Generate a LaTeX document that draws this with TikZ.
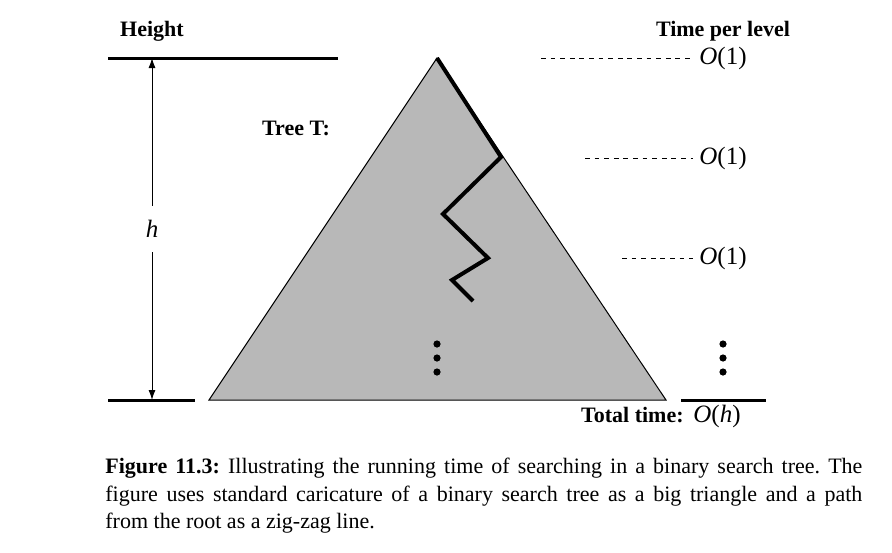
\documentclass[tikz,border=0pt]{standalone}
\usepackage{fontspec}
\setmainfont{Liberation Serif}
\usetikzlibrary{arrows.meta,positioning}
\definecolor{treegray}{RGB}{184,184,184}
\newcommand{\bigoh}[1]{\textit{O}(#1)}

\begin{document}
\begin{tikzpicture}[x=0.5pt,y=-0.5pt,
    txt/.style={font=\fontsize{11}{13.6}\selectfont,inner sep=0pt},
    head/.style={txt,font=\fontsize{11}{13.6}\selectfont\bfseries},
    cost/.style={txt,font=\fontsize{12.5}{15}\selectfont},
    level/.style={dash pattern=on 2.4pt off 2.4pt,line width=0.5pt,shorten >=3pt},
    rule/.style={line width=1.5pt},
    dot/.style={circle,fill=black,inner sep=0pt,minimum size=3.6pt}]
    \useasboundingbox (0,0) rectangle (892,552);
    % headings
    \node[head,anchor=base] (height) at (152,36) {Height};
    \node[head,anchor=base] (timeper) at (723,36) {Time per level};
    \node[head,anchor=base] (treelbl) at (296,135) {Tree T:};
    % height rules and arrow
    \coordinate (htop) at (152,58);
    \coordinate (hbot) at (152,400);
    \draw[rule] (108,58) -- (338,58);
    \draw[rule] (108,400) -- (195,400);
    \node[cost,inner ysep=7pt] (hlbl) at (152,229) {\textit{h}};
    \draw[line width=0.5pt,-{Latex[length=5pt,width=3.5pt]}] (hlbl) -- (htop);
    \draw[line width=0.5pt,-{Latex[length=5pt,width=3.5pt]}] (hlbl) -- (hbot);
    % the tree
    \coordinate (root) at (437,58);
    \fill[treegray,draw=black,line width=0.5pt] (root) -- (666,400) -- (209,400) -- cycle;
    \draw[line width=2pt,line join=miter] (root) -- (501,157) -- (443,214) -- (488,258)
      -- (452,280) -- (473,301);
    \node[dot] (d1) at (437,344) {};
    \node[dot] (d2) at (437,358) {};
    \node[dot] (d3) at (437,372) {};
    % time per level
    \node[cost,anchor=west] (t1) at (699,58) {\bigoh{1}};
    \node[cost,anchor=west] (t2) at (699,158) {\bigoh{1}};
    \node[cost,anchor=west] (t3) at (699,258) {\bigoh{1}};
    \coordinate (s1) at (541,58);
    \coordinate (s2) at (585,158);
    \coordinate (s3) at (622,258);
    \draw[level] (s1) -- (t1.west);
    \draw[level] (s2) -- (t2.west);
    \draw[level] (s3) -- (t3.west);
    \node[dot] (e1) at (723,344) {};
    \node[dot] (e2) at (723,358) {};
    \node[dot] (e3) at (723,372) {};
    \draw[rule] (681,400) -- (766,400);
    \node[head,anchor=base east] (total) at (684,422) {Total time:};
    \node[cost,anchor=base west] (totval) at (693,422) {\bigoh{\textit{h}}};
    % caption
    \node[txt,anchor=north west,text width=378.5pt,align=justify] (caption) at (105,458)
      {\frenchspacing\textbf{Figure 11.3:} Illustrating the running time of searching in a binary search tree. The
       figure uses standard caricature of a binary search tree as a big triangle and a path\linebreak
       from the root as a zig-zag line.};
\end{tikzpicture}
\end{document}
